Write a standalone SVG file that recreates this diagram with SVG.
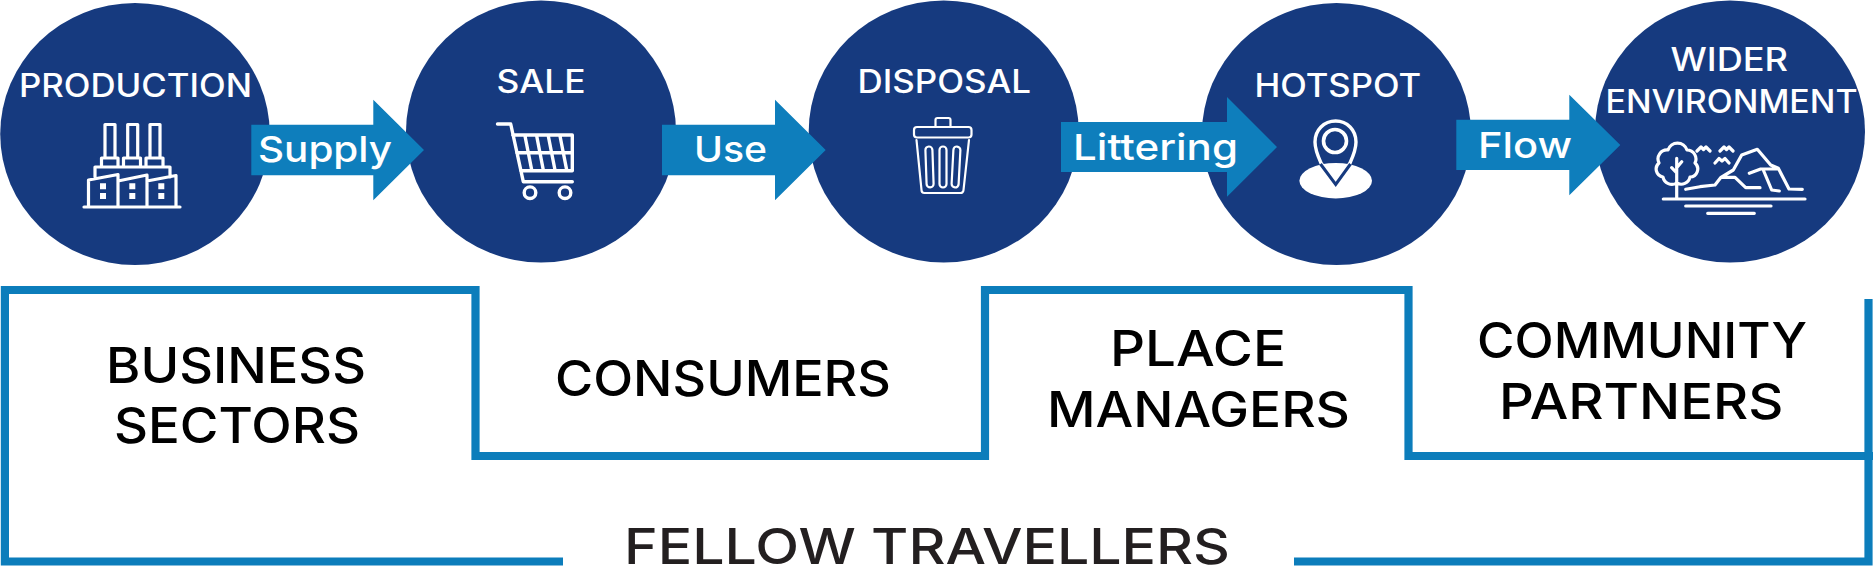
<svg xmlns="http://www.w3.org/2000/svg" width="1873" height="579" viewBox="0 0 1873 579">
<style>
text{font-family:"Inter","Open Sans","Liberation Sans",sans-serif;font-weight:500}
.n{fill:#163A7F}
.t{fill:#fff;font-size:32px}
.a{fill:#0E7EBC}
.l{fill:#fff;font-size:36px}
.b{fill:#000;font-size:49.5px}
.i{fill:none;stroke:#fff;stroke-width:3.2;stroke-linecap:round;stroke-linejoin:round}
.f{fill:none;stroke:#0C7DBB;stroke-width:8.2}
</style>
<rect width="1873" height="579" fill="#fff"/>
<g id="production">
<ellipse class="n" cx="135" cy="134" rx="134.800" ry="131"/>
<text class="t" x="19" y="96.700" textLength="233" lengthAdjust="spacingAndGlyphs">PRODUCTION</text>
<path class="i" d="M105,157V124.500H115V157M127.700,157V124.500H137.700V157M150,157V124.500H160V157M101.500,166V158H118V166M123.500,166V158H140.500V166M146,166V158H163V166M95,177V167H170V177M84,207H180M88.500,207V180L118,174.500V207M118,181L147,175V207M147,181L176,175.500V207"/>
<path fill="#fff" d="M100,183.300h6v6h-6zM100,193h6v6h-6zM129.300,183.300h6v6h-6zM129.300,193h6v6h-6zM158.300,183.300h6v6h-6zM158.300,193h6v6h-6z"/>
</g>
<g id="sale">
<ellipse class="n" cx="541" cy="131.500" rx="135" ry="131"/>
<text class="t" x="496.500" y="93.300" textLength="89" lengthAdjust="spacingAndGlyphs">SALE</text>
<path class="i" style="stroke-width:3.400" d="M497.500,124H510.700L523.300,181.700H572.300M512.700,135H572.300V170.700H520.700M516.700,152.700H572.300M525,136L531.700,170M536.700,136L543.300,170M548.300,136L555,170M560,136L566.700,170"/>
<circle class="i" style="stroke-width:3.400" cx="530" cy="192.700" r="5.800"/>
<circle class="i" style="stroke-width:3.400" cx="565" cy="192.700" r="5.800"/>
</g>
<g id="disposal">
<ellipse class="n" cx="943.700" cy="131.500" rx="135" ry="131"/>
<text class="t" x="857.500" y="93.300" textLength="173.500" lengthAdjust="spacingAndGlyphs">DISPOSAL</text>
<g class="i" style="stroke-width:2.200">
<rect x="914" y="127" width="57.500" height="10.500" rx="3"/>
<path d="M935.500,126.500V120a2,2 0 0 1 2,-2H948.500a2,2 0 0 1 2,2V126.500M916.500,140L921.500,190a3,3 0 0 0 3,3H960.500a3,3 0 0 0 3,-3L969,140"/>
<rect x="926" y="146.500" width="7" height="41" rx="3.500" transform="rotate(-2 929 167)"/>
<rect x="939.500" y="146.500" width="7" height="41" rx="3.500"/>
<rect x="952.500" y="146.500" width="7" height="41" rx="3.500" transform="rotate(3 956 167)"/>
</g>
</g>
<g id="hotspot">
<ellipse class="n" cx="1336.500" cy="134" rx="134.600" ry="131"/>
<text class="t" x="1254.500" y="96.700" textLength="166.500" lengthAdjust="spacingAndGlyphs">HOTSPOT</text>
<path class="i" style="stroke-width:3.400" d="M1335.700,184L1321,163C1316,152 1315,148 1315,142C1315,130 1324,121 1335.700,121C1347,121 1356,130 1356,142C1356,148 1355,152 1350,163Z"/>
<circle class="i" style="stroke-width:3.600" cx="1335" cy="141" r="11.500"/>
<ellipse cx="1335.700" cy="180.700" rx="36.300" ry="17.700" fill="#fff"/>
<path d="M1320.500,164L1335.700,184.500L1350.500,164" fill="none" stroke="#163A7F" stroke-width="3"/>
</g>
<g id="wider-environment">
<ellipse class="n" cx="1730" cy="131.500" rx="135" ry="131"/>
<text class="t" x="1670.500" y="70.700" textLength="117.500" lengthAdjust="spacingAndGlyphs">WIDER</text>
<text class="t" x="1605.500" y="113.300" textLength="252" lengthAdjust="spacingAndGlyphs">ENVIRONMENT</text>
<path class="i" d="M1663.300,199H1805M1685.700,206H1771M1707.700,213.300H1754.300M1676.700,158.300V199M1671.700,167.700L1676.700,173M1681.700,161.700L1676.700,167.700M1676.700,183A9,9 0 0 1 1663,177A8,8 0 0 1 1659,163A9,9 0 0 1 1668,150A10,10 0 0 1 1687,150A9,9 0 0 1 1695,163A8,8 0 0 1 1690,177A9,9 0 0 1 1676.700,183M1697,151L1701,147L1703.500,149.500L1706,147L1710,151M1720,151L1724,147L1726.500,149.500L1729,147L1733,151M1715,163L1719,158.500L1722,161L1725,158.500L1729,163M1685.700,189.300L1700,186.700L1715,185L1721,177.300L1733.300,170L1741.700,155L1757.300,149.300L1770.700,165L1778.300,168.300L1789,189L1802.300,189.300M1721,177.300H1735L1745.700,187.700H1760M1749.300,173.300L1760.700,169H1778.300M1763.300,170L1771.700,190L1779.300,191"/>
</g>
<g id="connectors">
<g id="supply"><path class="a" d="M251.300,124.700H373.300V99.700L424,150L373.300,200.300V175.300H251.300Z"/><text class="l" x="258" y="161.500" textLength="134" lengthAdjust="spacingAndGlyphs">Supply</text></g>
<g id="use"><path class="a" d="M662,124.700H775V99.700L825.700,150L775,200.300V175.300H662Z"/><text class="l" x="694" y="161.500" textLength="73" lengthAdjust="spacingAndGlyphs">Use</text></g>
<g id="littering"><path class="a" d="M1061,122H1227V97L1277,147L1227,196.700V172H1061Z"/><text class="l" x="1073" y="159.800" textLength="165" lengthAdjust="spacingAndGlyphs">Littering</text></g>
<g id="flow"><path class="a" d="M1456.300,119.700H1569.300V94.700L1620.300,145L1569.300,195.300V170H1456.300Z"/><text class="l" x="1478" y="157.800" textLength="94" lengthAdjust="spacingAndGlyphs">Flow</text></g>
</g>
<g id="frame">
<path class="f" d="M563,561.500H4.900V290H475.500V456H985V290H1408.500V456H1873"/>
<path class="f" d="M1868.500,299V561.500H1294"/>
</g>
<g id="business-sectors">
<text class="b" x="106" y="382.500" textLength="260" lengthAdjust="spacingAndGlyphs">BUSINESS</text>
<text class="b" x="114" y="443" textLength="246" lengthAdjust="spacingAndGlyphs">SECTORS</text>
</g>
<g id="consumers"><text class="b" x="555" y="395.500" textLength="336" lengthAdjust="spacingAndGlyphs">CONSUMERS</text></g>
<g id="place-managers">
<text class="b" x="1110" y="366" textLength="176" lengthAdjust="spacingAndGlyphs">PLACE</text>
<text class="b" x="1047" y="427" textLength="303" lengthAdjust="spacingAndGlyphs">MANAGERS</text>
</g>
<g id="community-partners">
<text class="b" x="1477" y="358" textLength="330" lengthAdjust="spacingAndGlyphs">COMMUNITY</text>
<text class="b" x="1499" y="419" textLength="284.500" lengthAdjust="spacingAndGlyphs">PARTNERS</text>
</g>
<g id="fellow-travellers"><text class="b" style="fill:#231F20" x="624" y="564" textLength="606" lengthAdjust="spacingAndGlyphs">FELLOW TRAVELLERS</text></g>
</svg>
